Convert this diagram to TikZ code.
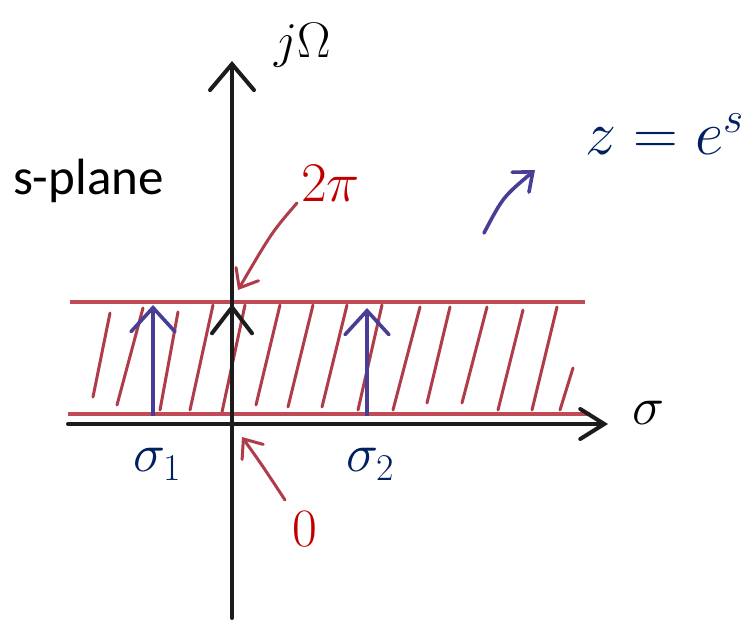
\RequirePackage{fix-cm}
\documentclass[tikz,border=0pt]{standalone}
\usepackage{fontspec}
\newfontfamily\calib{Carlito}
\usetikzlibrary{arrows.meta}
\definecolor{redtext}{RGB}{192,0,0}
\definecolor{bluetext}{RGB}{0,32,96}
\definecolor{redline}{RGB}{190,75,85}
\definecolor{hatchred}{RGB}{175,60,72}
\definecolor{bluearrow}{RGB}{72,62,150}
\definecolor{ink}{RGB}{28,28,28}
\tikzset{
  axisline/.style={ink, line width=4pt, line cap=round},
  bandline/.style={redline, line width=3.2pt},
  hatchline/.style={hatchred, line width=3pt, line cap=round},
  bluevec/.style={bluearrow, line width=3.6pt, -{Straight Barb[length=24pt,width=44pt,line cap=round]}},
  pointer/.style={hatchred, line width=3pt, line cap=round, -{Straight Barb[length=16pt,width=26pt,line cap=round]}},
  lbl/.style={inner sep=0pt, outer sep=0pt}
}
\begin{document}
\begin{tikzpicture}[x=1pt,y=-1pt]
\useasboundingbox[fill=white] (0,0) rectangle (756,620);
% hatching
\foreach \a/\b/\c/\d in {93/397/110/313, 117/405/143/308, 160/410/178/312, 190/410/213/305,
  222/412/245/305, 256/405/280/305, 288/407/313/305, 322/407/347/305, 358/410/382/305,
  393/410/420/307, 427/403/450/307, 462/403/487/307, 498/410/523/310, 532/410/557/307, 560/410/573/368}
  \draw[hatchline] (\a,\b) -- (\c,\d);
% band edges
\coordinate (bandTL) at (70,302);
\coordinate (bandTR) at (585,302);
\coordinate (bandBL) at (68,414);
\coordinate (bandBR) at (590,414);
\draw[bandline] (bandTL) -- (bandTR);
\draw[bandline] (bandBL) -- (bandBR);
% axes
\coordinate (vBot) at (232,618);
\coordinate (vTop) at (232,61);
\coordinate (hLeft) at (68,424);
\coordinate (hRight) at (608,424);
\draw[axisline, -{Straight Barb[length=26pt,width=44pt,line cap=round]}] (vBot) -- (vTop);
\draw[axisline, -{Straight Barb[length=24pt,width=30pt,line cap=round]}] (hLeft) -- (hRight);
% black arrow at 2pi
\coordinate (twoPiFoot) at (232,380);
\coordinate (twoPiTip) at (232,304);
\draw[axisline, -{Straight Barb[length=26pt,width=40pt,line cap=round]}] (twoPiFoot) -- (twoPiTip);
% blue arrows
\coordinate (sOneBot) at (153,416);
\coordinate (sOneTop) at (153,305);
\coordinate (sTwoBot) at (367,416);
\coordinate (sTwoTop) at (367,308);
\draw[bluevec] (sOneBot) -- (sOneTop);
\draw[bluevec] (sTwoBot) -- (sTwoTop);
% labels
\node[lbl, anchor=base west] (jomega) at (274,58) {\fontsize{50}{56}\selectfont $j\Omega$};
\node[lbl, anchor=base west, text=redtext] (twopi) at (301,202) {\fontsize{56}{62}\selectfont $2\pi$};
\node[lbl, anchor=base west, text=bluetext] (zeq) at (585,155) {\fontsize{62}{68}\selectfont $z=e^{s}$};
\node[lbl, anchor=base west] (splane) at (13,195) {\fontsize{51}{57}\selectfont\calib s-plane};
\node[lbl, anchor=base west] (sigma) at (632,425) {\fontsize{54}{60}\selectfont $\sigma$};
\node[lbl, anchor=base west, text=bluetext] (sigone) at (133,472) {\fontsize{54}{60}\selectfont $\sigma_1$};
\node[lbl, anchor=base west, text=bluetext] (sigtwo) at (346,472) {\fontsize{54}{60}\selectfont $\sigma_2$};
\node[lbl, anchor=base, text=redtext] (zero) at (305,547) {\fontsize{54}{60}\selectfont $0$};
% pointers
\coordinate (ptrTwoPiTip) at (238,290);
\coordinate (ptrZeroTip) at (242,437);
\draw[pointer] (297,203) .. controls (272,232) .. (ptrTwoPiTip);
\draw[pointer] (285,500) .. controls (262,465) .. (ptrZeroTip);
% blue curved arrow
\coordinate (zTail) at (484,233);
\coordinate (zTip) at (535,170);
\draw[bluearrow, line width=3.6pt, line cap=round, -{Straight Barb[length=16pt,width=26pt,line cap=round]}] (zTail) .. controls (503,197) .. (zTip);
\end{tikzpicture}
\end{document}
